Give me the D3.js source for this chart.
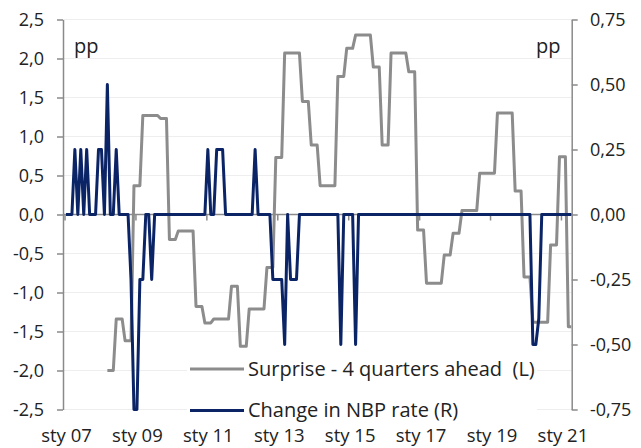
<!DOCTYPE html>
<html><head><meta charset="utf-8">
<script src="https://cdn.jsdelivr.net/npm/d3@7"></script>
<style>
html,body{margin:0;padding:0;background:#fff;}
svg{display:block;font-family:"Open Sans",sans-serif;}
</style>
</head><body>
<svg id="chart" width="641" height="448"></svg>
<script>
// ---------------- DATA ----------------
const monthNames = ["sty","lut","mar","kwi","maj","cze","lip","sie","wrz","paź","lis","gru"];
const startYear = 2007;
const nMonths = 172; // sty 07 .. kwi 21
const categories = d3.range(nMonths).map(i =>
  monthNames[i % 12] + " " + String((startYear + Math.floor(i / 12)) % 100).padStart(2, "0"));
const tickLabels = ["sty 07","sty 09","sty 11","sty 13","sty 15","sty 17","sty 19","sty 21"];
const leftTicks = [2.5, 2.0, 1.5, 1.0, 0.5, 0.0, -0.5, -1.0, -1.5, -2.0, -2.5];
const rightTicks = [0.75, 0.5, 0.25, 0, -0.25, -0.5, -0.75];
const seriesNames = ["Surprise - 4 quarters ahead  (L)", "Change in NBP rate (R)"];

// Surprise - 4 quarters ahead (left axis, pp)
const surprise = [
  null,null,null,null,null,null,null,null,null,null,null,null,null,null,
  -2.00,-2.00,-2.00, -1.34,-1.34,-1.34, -1.62,-1.62,-1.62, 0.37,0.37,0.37,
  1.27,1.27,1.27,1.27,1.27,1.27, 1.23,1.23,1.23, -0.32,-0.32,-0.32,
  -0.21,-0.21,-0.21,-0.21,-0.21,-0.21, -1.18,-1.18,-1.18, -1.39,-1.39,-1.39,
  -1.34,-1.34,-1.34,-1.34,-1.34,-1.34, -0.92,-0.92,-0.92, -1.69,-1.69,-1.69,
  -1.21,-1.21,-1.21,-1.21,-1.21,-1.21, -0.68,-0.68,-0.68, 0.73,0.73,0.73,
  2.07,2.07,2.07,2.07,2.07,2.07, 1.45,1.45,1.45, 0.89,0.89,0.89,
  0.37,0.37,0.37,0.37,0.37,0.37, 1.77,1.77,1.77, 2.13,2.13,2.13,
  2.30,2.30,2.30,2.30,2.30,2.30, 1.89,1.89,1.89, 0.89,0.89,0.89,
  2.07,2.07,2.07,2.07,2.07,2.07, 1.83,1.83,1.83, -0.20,-0.20,-0.20,
  -0.88,-0.88,-0.88,-0.88,-0.88,-0.88, -0.52,-0.52,-0.52, -0.24,-0.24,-0.24,
  0.05,0.05,0.05,0.05,0.05,0.05, 0.53,0.53,0.53,0.53,0.53,0.53,
  1.30,1.30,1.30,1.30,1.30,1.30, 0.30,0.30,0.30, -0.80,-0.80,-0.80,
  -1.38,-1.38,-1.38,-1.38,-1.38,-1.38, -0.39,-0.39,-0.39, 0.74,0.74,0.74,
  -1.44,-1.44
];

// Change in NBP rate (right axis, pp)
const rateChange = [
  0,0,0,0.25,0,0.25,0,0.25,0,0,0,0.25,0.25,0,0.5,0,0,0.25,0,0,
  0,0,-0.25,-0.75,-0.75,-0.25,-0.25,0,0,-0.25,0,0,0,0,0,0,0,0,0,0,
  0,0,0,0,0,0,0,0,0.25,0,0,0.25,0.25,0.25,0,0,0,0,0,0,
  0,0,0,0,0.25,0,0,0,0,0,-0.25,-0.25,-0.25,-0.25,-0.5,0,-0.25,-0.25,-0.25,0,
  0,0,0,0,0,0,0,0,0,0,0,0,0,-0.5,0,0,0,0,-0.5,0,
  0,0,0,0,0,0,0,0,0,0,0,0,0,0,0,0,0,0,0,0,
  0,0,0,0,0,0,0,0,0,0,0,0,0,0,0,0,0,0,0,0,
  0,0,0,0,0,0,0,0,0,0,0,0,0,0,0,0,0,0,-0.5,-0.5,
  -0.4,0,0,0,0,0,0,0,0,0,0,0
];

// ---------------- LAYOUT ----------------
const plotLeft = 63, plotRight = 571.7, plotTop = 19.5, plotBottom = 409.5;
const grey = "#8c8c8c", navy = "#0b2466", axisGrey = "#8a8a8a", gridGrey = "#eeeeee";
const fmt = d3.formatLocale({decimal: ",", thousands: " ", grouping: [3], currency: ["", ""], minus: "-"});
const fmt1 = fmt.format(".1f"), fmt2 = fmt.format(".2f");

const svg = d3.select("#chart");

const x = d3.scalePoint().domain(categories).range([66, 571.3]);
const step = x.step();
const yL = d3.scaleLinear().domain([-2.5, 2.5]).range([plotBottom, plotTop]);
const yR = d3.scaleLinear().domain([-0.75, 0.75]).range([plotBottom, plotTop]);
const y0 = yL(0);

// gridlines
svg.append("g").selectAll("line").data(leftTicks.filter(d => d !== 0)).join("line")
  .attr("x1", plotLeft).attr("x2", plotRight)
  .attr("y1", d => yL(d)).attr("y2", d => yL(d))
  .attr("stroke", gridGrey).attr("stroke-width", 1);

// category axis along zero
const xAxisG = svg.append("g").attr("transform", `translate(0,${y0})`);
xAxisG.append("line").attr("x1", plotLeft).attr("x2", plotRight).attr("y1", 0).attr("y2", 0)
  .attr("stroke", axisGrey).attr("stroke-width", 1.5);
xAxisG.call(d3.axisBottom(x).tickValues(tickLabels).tickSize(6).tickSizeOuter(0));
xAxisG.select(".domain").remove();
xAxisG.selectAll(".tick line").attr("stroke", axisGrey).attr("stroke-width", 1.5)
  .attr("transform", `translate(${-step / 2},0)`);
xAxisG.selectAll(".tick text").attr("y", 442 - y0).attr("dy", null)
  .attr("font-size", 18.5).attr("fill", "#222").attr("font-family", "Open Sans");

// left axis
const leftG = svg.append("g").attr("transform", `translate(${plotLeft},0)`)
  .call(d3.axisLeft(yL).tickValues(leftTicks).tickFormat(fmt1).tickSize(6).tickSizeOuter(0).tickPadding(13));
leftG.select(".domain").attr("stroke", axisGrey).attr("stroke-width", 1.5);
leftG.selectAll(".tick line").attr("stroke", axisGrey).attr("stroke-width", 1.5);
leftG.selectAll(".tick text").attr("font-size", 18).attr("fill", "#222").attr("font-family", "Open Sans");

// right axis
const rightG = svg.append("g").attr("transform", `translate(${plotRight},0)`)
  .call(d3.axisRight(yR).tickValues(rightTicks).tickFormat(fmt2).tickSize(6).tickSizeOuter(0));
rightG.select(".domain").attr("stroke", axisGrey).attr("stroke-width", 1.5);
rightG.selectAll(".tick line").attr("stroke", axisGrey).attr("stroke-width", 1.5);
rightG.selectAll(".tick text").attr("x", 590 - plotRight).attr("text-anchor", "start")
  .attr("font-size", 18).attr("fill", "#222").attr("font-family", "Open Sans");

// unit labels
svg.append("text").attr("x", 74).attr("y", 53).text("pp")
  .attr("font-size", 20).attr("fill", "#222");
svg.append("text").attr("x", 536).attr("y", 53).text("pp")
  .attr("font-size", 20).attr("fill", "#222");

// series lines
const lineL = d3.line().defined(d => d != null)
  .x((d, i) => x(categories[i])).y(d => yL(d));
const lineR = d3.line().defined(d => d != null)
  .x((d, i) => x(categories[i])).y(d => yR(d));

svg.append("path").datum(surprise).attr("d", lineL)
  .attr("fill", "none").attr("stroke", grey).attr("stroke-width", 3).attr("stroke-linejoin", "round");
svg.append("path").datum(rateChange).attr("d", lineR)
  .attr("fill", "none").attr("stroke", navy).attr("stroke-width", 3).attr("stroke-linejoin", "round");

// legend
const legend = svg.append("g");
legend.append("rect").attr("x", 187).attr("y", 352).attr("width", 350).attr("height", 70).attr("fill", "#fff");
const legendItems = [
  {name: seriesNames[0], color: grey, ly: 369, ty: 375.5},
  {name: seriesNames[1], color: navy, ly: 410.5, ty: 416.5}
];
legendItems.forEach(it => {
  legend.append("line").attr("x1", 190).attr("x2", 244).attr("y1", it.ly).attr("y2", it.ly)
    .attr("stroke", it.color).attr("stroke-width", 3);
  legend.append("text").attr("x", 248).attr("y", it.ty).text(it.name)
    .attr("font-size", 20).attr("fill", "#222").style("white-space", "pre");
});
</script>
</body></html>
